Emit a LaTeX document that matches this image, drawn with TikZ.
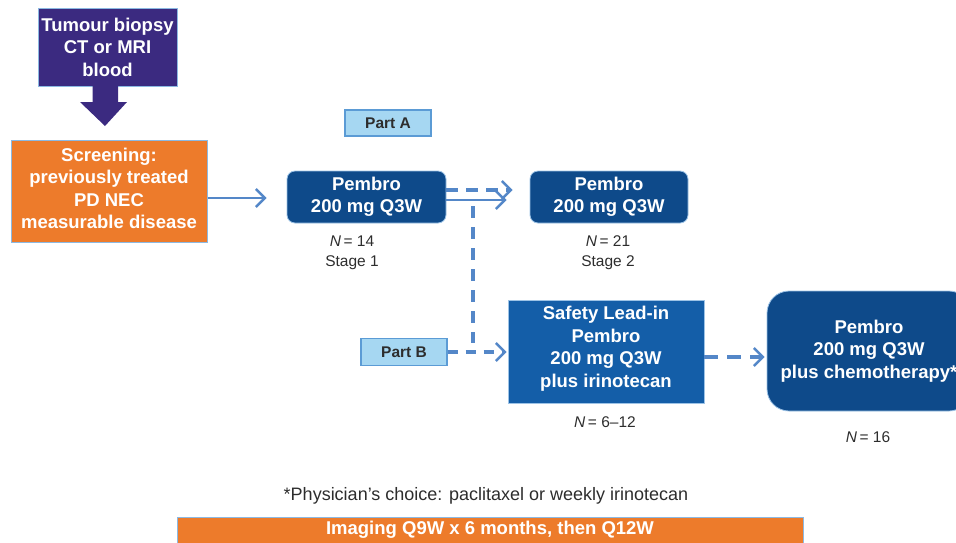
\documentclass[tikz,border=0pt]{standalone}
\usepackage{fontspec}
\setmainfont{Liberation Sans}
\usetikzlibrary{arrows.meta}
\definecolor{cpurple}{RGB}{59,42,128}
\definecolor{corange}{RGB}{237,123,43}
\definecolor{cdark}{RGB}{14,74,138}
\definecolor{cmid}{RGB}{20,94,168}
\definecolor{clight}{RGB}{166,215,242}
\definecolor{cborder}{RGB}{91,155,213}
\definecolor{carrow}{RGB}{84,135,200}
\definecolor{ctext}{RGB}{45,45,45}
\tikzset{
  bigtxt/.style={font=\bfseries\fontsize{18.5}{22.5}\selectfont, text=white, align=center, inner sep=0pt},
  purplebox/.style={bigtxt, fill=cpurple, draw=cborder!70, line width=1pt},
  orangebox/.style={bigtxt, fill=corange, draw=cborder!70, line width=1pt},
  pembrobox/.style={bigtxt, fill=cdark, draw=cborder!60, line width=0.8pt, rounded corners=8pt},
  safetybox/.style={bigtxt, fill=cmid, draw=cborder!60, line width=0.8pt},
  finalbox/.style={bigtxt, fill=cdark, draw=cborder!60, line width=0.8pt, rounded corners=22pt},
  partbox/.style={font=\bfseries\fontsize{15.5}{18}\selectfont, text=ctext, fill=clight, draw=cborder, line width=1.3pt, inner sep=0pt},
  smalltxt/.style={font=\fontsize{15.5}{20}\selectfont, text=ctext, align=center, inner sep=0pt},
  tip/.style={-{Straight Barb[length=9pt,width=18pt,line width=2.4pt]}},
  solidarr/.style={tip, draw=carrow, line width=2.4pt},
  dasharr/.style={tip, draw=carrow, line width=3.2pt, dash pattern=on 12pt off 8pt},
  dashline/.style={draw=carrow, line width=3.2pt, dash pattern=on 12pt off 8pt},
}
\begin{document}
\begin{tikzpicture}[x=1pt,y=-1pt]
\useasboundingbox (0,0) rectangle (956,542);
\clip (0,0) rectangle (956,542);

% top purple box
\node[purplebox, minimum width=139pt, minimum height=78pt] (biopsy) at (107.5,47) {Tumour biopsy\\CT or MRI\\blood};
% block arrow
\fill[cpurple] (92.7,86) -- (118,86) -- (118,102) -- (127,102) -- (105,126) -- (80,102) -- (92.7,102) -- cycle;

% screening
\node[orangebox, minimum width=196pt, minimum height=102pt] (screen) at (109,191) {};
\node[bigtxt] (screentxt) at (109,188.5) {Screening:\\previously treated\\PD NEC\\measurable disease};

% Part A
\node[partbox, minimum width=86pt, minimum height=26pt] (partA) at (388,123) {Part A};

% Pembro boxes
\node[pembrobox, minimum width=159pt, minimum height=52pt] (p1) at (366.5,197) {Pembro\\200 mg Q3W};
\node[pembrobox, minimum width=158pt, minimum height=52pt] (p2) at (609,197) {Pembro\\200 mg Q3W};

\node[smalltxt] (n1) at (352,253) {\textit{N}\,= 14\\Stage 1};
\node[smalltxt] (n2) at (608,253) {\textit{N}\,= 21\\Stage 2};

% Part B
\node[partbox, minimum width=86pt, minimum height=27pt] (partB) at (404,352) {Part B};

% safety lead-in
\node[safetybox, minimum width=196pt, minimum height=103pt] (safety) at (606,351.5) {};
\node[bigtxt] (safetytxt) at (606,348.5) {Safety Lead-in\\Pembro\\200 mg Q3W\\plus irinotecan};
\node[smalltxt] (n3) at (605,422) {\textit{N}\,= 6–12};

% final box
\node[finalbox, minimum width=204pt, minimum height=120pt] (final) at (869,351) {Pembro\\200 mg Q3W\\plus chemotherapy*};
\node[smalltxt] (n4) at (868,437) {\textit{N}\,= 16};

% connectors
\draw[solidarr, shorten >=20pt] (screen.east |- 0,198) -- (p1.west |- 0,198);
\draw[dasharr, shorten >=17pt] (p1.east |- 0,190) -- (p2.west |- 0,190);
\draw[solidarr, shorten >=23pt] (p1.east |- 0,200) -- (p2.west |- 0,200);
\coordinate (vtop) at (473,200);
\coordinate (vbot) at (473,343);
\draw[dashline, dash pattern=on 12pt off 9pt, dash phase=-6pt] (vtop) -- (vbot);
\draw[dasharr, shorten >=1pt, dash pattern=on 10pt off 8pt] (partB.east) -- (safety.west |- partB.east);
\draw[dasharr, shorten >=2pt, dash pattern=on 14pt off 9pt] (safety.east |- 0,357) -- (final.west |- 0,357);

% footnote
\node[smalltxt, font=\fontsize{18}{22}\selectfont] (foot) at (486,496) {*Physician’s choice: paclitaxel or weekly irinotecan};

% bottom bar
\node[orangebox, minimum width=626pt, minimum height=36pt, anchor=north west] (imaging) at (177,517) {};
\node[bigtxt] (imgtxt) at (490,530) {Imaging Q9W x 6 months, then Q12W};
\end{tikzpicture}
\end{document}
